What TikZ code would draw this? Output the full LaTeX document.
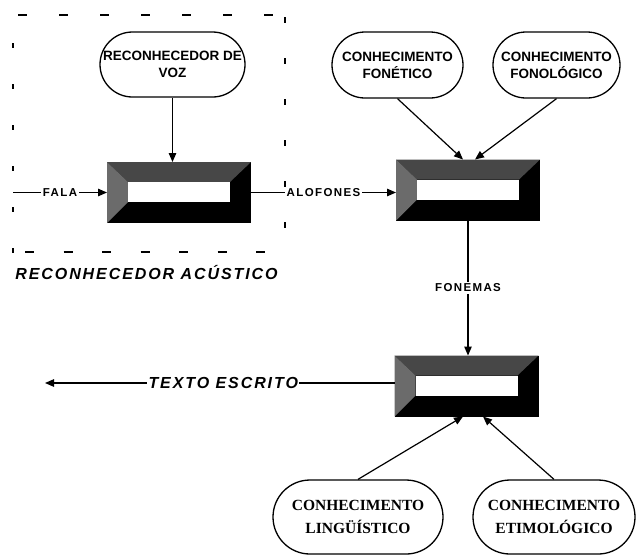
\documentclass[tikz,border=0pt]{standalone}
\usepackage{fontspec}
\setmainfont{Liberation Sans}
\newfontfamily\lblfont{Liberation Sans}[LetterSpace=12]
\newfontfamily\serfont{Liberation Serif}
\usetikzlibrary{arrows.meta,calc}
\newcommand\bevelfill[1]{%
  \coordinate (#1-inw) at ($(#1.north west)+(21pt,-20pt)$);
  \coordinate (#1-ine) at ($(#1.north east)+(-21pt,-20pt)$);
  \coordinate (#1-isw) at ($(#1.south west)+(21pt,21pt)$);
  \coordinate (#1-ise) at ($(#1.south east)+(-21pt,21pt)$);
  \fill[topgray] (#1.north west) -- (#1.north east) -- (#1-ine) -- (#1-inw) -- cycle;
  \fill[leftgray] (#1.north west) -- (#1-inw) -- (#1-isw) -- (#1.south west) -- cycle;
  \fill[white] (#1-inw) rectangle (#1-ise);
}
\begin{document}
\begin{tikzpicture}[x=1pt,y=-1pt,
  topgray/.style={fill=black!72},
  leftgray/.style={fill=black!58},
  ovalA/.style={draw, line width=1.3pt, inner sep=0pt, align=center,
    font=\bfseries\fontsize{13.5}{17}\selectfont},
  ovalB/.style={draw, line width=1.3pt, inner sep=0pt, align=center,
    font=\serfont\bfseries\fontsize{15.5}{23}\selectfont},
  bevbox/.style={rectangle, inner sep=0pt, outer sep=0pt,
    minimum width=144pt, minimum height=61pt, fill=black},
  arr/.style={line width=1.2pt, -{Triangle[length=9pt,width=7.5pt]}},
  lbl/.style={fill=white, inner sep=1.5pt,
    font=\lblfont\bfseries\fontsize{11.5}{13}\selectfont},
  big/.style={font=\lblfont\bfseries\itshape\fontsize{16}{18}\selectfont},
  frame/.style={line width=1.2pt}
]
\useasboundingbox (0,0) rectangle (639,558);

% dashed frame of the acoustic recogniser
\draw[frame, dash pattern=on 9pt off 32pt] (18,15) -- (290,15);
\draw[frame, dash pattern=on 5pt off 36pt] (13,43) -- (13,255);
\draw[frame, dash pattern=on 6pt off 35pt] (285,17) -- (285,240);
\draw[frame, dash pattern=on 9pt off 29.5pt] (25,252) -- (275,252);
\node[big, inner sep=0pt] (racust) at (146.5,272.5) {RECONHECEDOR ACÚSTICO};

% knowledge sources
\node[ovalA, minimum width=145pt, minimum height=65pt, rounded corners=32.5pt]
  (voz) at (172.5,64.5) {RECONHECEDOR DE\\VOZ};
\node[ovalA, minimum width=131pt, minimum height=66pt, rounded corners=33pt]
  (fonet) at (397.5,65) {CONHECIMENTO\\FONÉTICO};
\node[ovalA, minimum width=127pt, minimum height=66pt, rounded corners=33pt]
  (fonol) at (556.5,65) {CONHECIMENTO\\FONOLÓGICO};
\node[ovalB, minimum width=170pt, minimum height=74pt, rounded corners=37pt]
  (ling) at (358,517) {CONHECIMENTO\\LINGÜÍSTICO};
\node[ovalB, minimum width=162pt, minimum height=74pt, rounded corners=37pt]
  (etim) at (554,517) {CONHECIMENTO\\ETIMOLÓGICO};

% processing boxes
\node[bevbox] (b1) at (179,192.5) {};
\bevelfill{b1}
\node[bevbox] (b2) at (468,190) {};
\bevelfill{b2}
\node[bevbox] (b3) at (466.5,386) {};
\bevelfill{b3}

\coordinate (fstart) at (13,192.5);
\coordinate (tend) at (45,383);

% connectors
\draw[arr] (fstart) -- node[lbl] (fala) {FALA} (b1.west);
\draw[arr] (b1.east) -- node[lbl] (alof) {ALOFONES} (b1.east -| b2.west);
\draw[arr] (voz.south) -- (voz.south |- b1.north);
\draw[arr] (fonet.south) -- ([xshift=-5pt]b2.north);
\draw[arr] (fonol.south) -- ([xshift=7pt]b2.north);
\draw[arr] (b2.south) -- node[lbl] (fonem) {FONEMAS} (b2.south |- b3.north);
\draw[arr] ([yshift=3pt]b3.west) -- node[lbl, big, pos=0.49] (texto) {TEXTO ESCRITO} (tend);
\draw[arr] (ling.north) -- ([xshift=-3.5pt]b3.south);
\draw[arr] (etim.north) -- ([xshift=16.5pt]b3.south);
\end{tikzpicture}
\end{document}
